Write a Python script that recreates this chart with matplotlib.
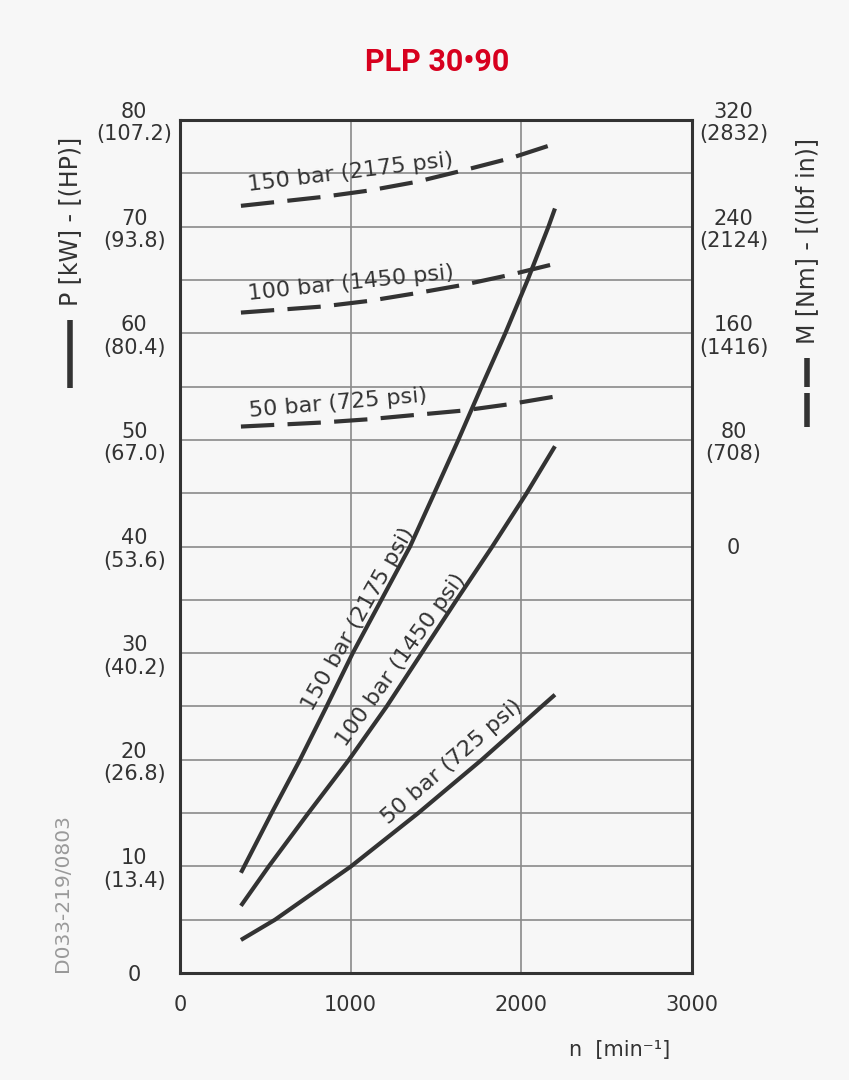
import matplotlib
matplotlib.use("Agg")
import matplotlib.pyplot as plt
from matplotlib.lines import Line2D

# ---------------- data ----------------
title = "PLP 30\u202290"

# power curves (solid) : speed [min-1] -> power [kW]
n_p150 = [357, 537, 703, 859, 1012, 1180, 1348, 1490, 1631, 1767, 1906, 2037, 2159, 2197]
p150 = [9.4, 15.0, 20.0, 25.0, 30.0, 35.0, 40.0, 45.0, 50.0, 55.0, 60.0, 65.0, 70.0, 71.7]
n_p100 = [357, 520, 752, 990, 1211, 1416, 1621, 1830, 2031, 2197]
p100 = [6.3, 10.0, 15.0, 20.0, 25.0, 30.0, 35.0, 40.0, 45.0, 49.4]
n_p50 = [357, 557, 1002, 1396, 1582, 1768, 2000, 2119, 2197]
p50 = [3.1, 5.0, 10.0, 15.0, 17.5, 20.0, 23.3, 25.0, 26.1]

# torque curves (dashed) : speed [min-1] -> torque [Nm]
n_m = [357, 830, 1109, 1386, 1660, 1933, 2197]
m150 = [255.6, 262.2, 267.1, 273.6, 282.2, 291.2, 302.2]
m100 = [175.5, 180.0, 184.3, 190.1, 196.3, 203.8, 212.1]
m50 = [90.0, 93.0, 95.5, 98.8, 102.0, 106.8, 112.5]

labels_bar = ["150 bar (2175 psi)", "100 bar (1450 psi)", "50 bar (725 psi)"]

kw_ticks = [0, 10, 20, 30, 40, 50, 60, 70, 80]
hp_ticks = ["", "13.4", "26.8", "40.2", "53.6", "67.0", "80.4", "93.8", "107.2"]
nm_ticks = [0, 80, 160, 240, 320]
lbfin_ticks = ["", "708", "1416", "2124", "2832"]
x_ticks = [0, 1000, 2000, 3000]

# ---------------- style ----------------
BG = "#f7f7f7"
INK = "#333333"
GRID = "#8a8a8a"
FS = 15
plt.rcParams['font.family'] = ['DejaVu Sans']

fig = plt.figure(figsize=(8.49, 10.8), dpi=100, facecolor=BG)
ax = fig.add_axes([180/849, 1-973/1080, 512/849, 853/1080])
ax.set_facecolor(BG)
ax.set_xlim(0, 3000)
ax.set_ylim(0, 80)

ax2 = ax.twinx()
ax2.set_ylim(-320, 320)

# grid
ax.set_xticks(x_ticks)
ax.set_yticks(kw_ticks)
ax.set_yticks([5, 15, 25, 35, 45, 55, 65, 75], minor=True)
ax.grid(True, which='both', color=GRID, lw=1.2)
ax.set_axisbelow(True)

for sp in ax.spines.values():
    sp.set_color(INK)
    sp.set_linewidth(2.2)
for sp in ax2.spines.values():
    sp.set_visible(False)

# tick labels
ax.tick_params(axis='both', which='both', length=0, colors=INK, labelsize=FS)
ax.tick_params(axis='x', pad=16)
ylabels = [f"{k}" if h == "" else f"{k}\n({h})" for k, h in zip(kw_ticks, hp_ticks)]
ax.set_yticklabels(ylabels, linespacing=1.15)
for lab in ax.get_yticklabels():
    lab.set_ha('center')
    lab.set_multialignment('center')
ax.tick_params(axis='y', pad=33)

ax2.set_yticks(nm_ticks)
r_labels = [f"{k}" if h == "" else f"{k}\n({h})" for k, h in zip(nm_ticks, lbfin_ticks)]
ax2.set_yticklabels(r_labels, linespacing=1.15)
ax2.tick_params(axis='y', length=0, colors=INK, labelsize=FS, pad=30)
for lab in ax2.get_yticklabels():
    lab.set_ha('center')
    lab.set_multialignment('center')

# curves
lw = 3.0
for xs, ys in [(n_p150, p150), (n_p100, p100), (n_p50, p50)]:
    ax.plot(xs, ys, color=INK, lw=lw, solid_capstyle='butt', solid_joinstyle='round')
for ys in [m150, m100, m50]:
    ax2.plot(n_m, ys, color=INK, lw=lw, dashes=(8.0, 3.2), dash_capstyle='butt')

# in-chart labels
tk = dict(color=INK, fontsize=16, ha='center', va='center', rotation_mode='anchor')
ax2.text(1001, 280.5, labels_bar[0], rotation=7, **tk)
ax2.text(1001, 197.5, labels_bar[1], rotation=6, **tk)
ax2.text(926, 107.5, labels_bar[2], rotation=5, **tk)

ax.text(1043, 33.2, labels_bar[0], rotation=60.5, **tk)
ax.text(1296, 29.4, labels_bar[1], rotation=54.5, **tk)
ax.text(1592, 19.8, labels_bar[2], rotation=41, **tk)

# titles & axis captions
fig.text(437/849, 1-62/1080, title, color="#d7001e", fontsize=22, fontweight='bold',
         ha='center', va='center', family=['Roboto', 'DejaVu Sans'])

fig.text(620/849, 1-1050/1080, "n  [min\u207b\u00b9]", color=INK, fontsize=FS,
         ha='center', va='center')

fig.text(70/849, 1-221/1080, "P [kW] - [(HP)]", color=INK, fontsize=17,
         rotation=90, ha='center', va='center')
fig.add_artist(Line2D([70/849, 70/849], [1-320/1080, 1-388/1080], color=INK, lw=4,
                      solid_capstyle='butt'))

fig.text(807/849, 1-241/1080, "M [Nm] - [(lbf in)]", color=INK, fontsize=17,
         rotation=90, ha='center', va='center')
fig.add_artist(Line2D([807/849, 807/849], [1-358/1080, 1-387/1080], color=INK, lw=4,
                      solid_capstyle='butt'))
fig.add_artist(Line2D([807/849, 807/849], [1-393/1080, 1-427/1080], color=INK, lw=4,
                      solid_capstyle='butt'))

fig.text(63/849, 1-893/1080, "D033-219/0803", color="#999999", fontsize=14.5,
         rotation=90, ha='center', va='center')

fig.savefig("out.png", dpi=100, facecolor=BG)
